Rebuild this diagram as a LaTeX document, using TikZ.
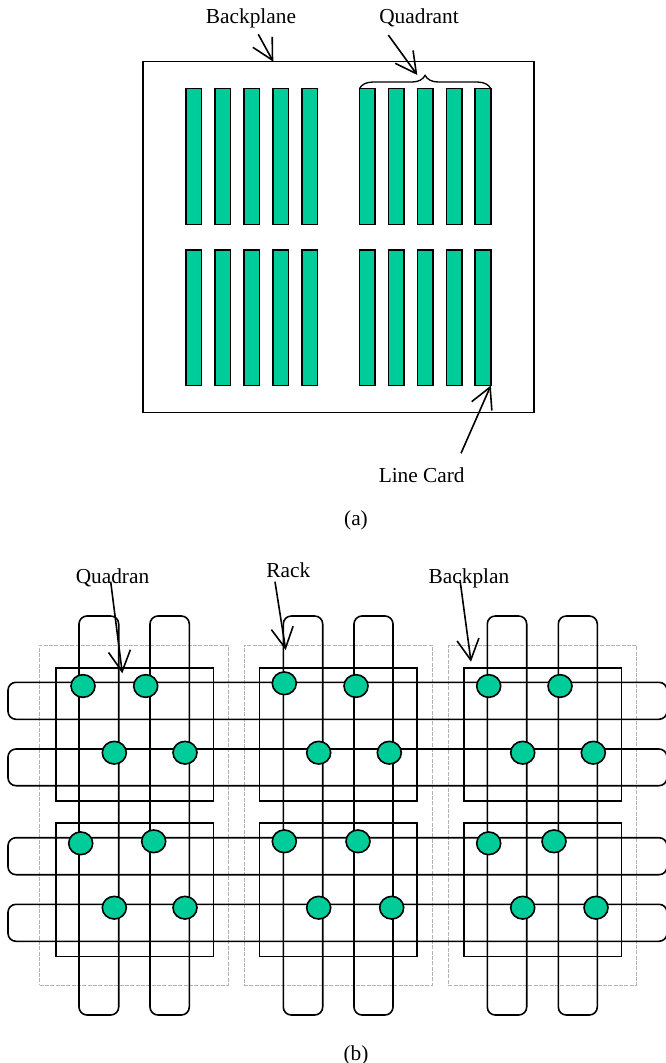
\documentclass[tikz,border=0pt]{standalone}
\usepackage{fontspec}
\setmainfont{Liberation Serif}
\usetikzlibrary{arrows.meta,shapes.geometric,decorations.pathreplacing}
\definecolor{cardgreen}{HTML}{00CC99}
\tikzset{
    outline/.style={draw=black, line width=1.2pt},
    label/.style={anchor=base, inner sep=0pt, font=\fontsize{16}{18}\selectfont},
    pointer/.style={line width=1.2pt, -{Straight Barb[length=15.5pt,width=16.5pt]}},
    cardbox/.style={outline, fill=cardgreen, anchor=north west, inner sep=0pt, outer sep=0pt, minimum width=11.7pt, minimum height=101.7pt},
    chipnode/.style={outline, fill=cardgreen, ellipse, inner sep=0pt, outer sep=0pt, minimum width=18pt, minimum height=17pt},
    rackbox/.style={draw=black!30, line width=0.5pt, dash pattern=on 3pt off 1pt},
    wrapbox/.style={outline, rounded corners=6pt}
}
\begin{document}
\begin{tikzpicture}[x=0.75pt, y=-0.75pt]
    \useasboundingbox (0,0) rectangle (665,1063);

    % Part (a): the backplane and its line cards
    \node[outline, anchor=north west, inner sep=0pt, outer sep=0pt, minimum width=293.5pt, minimum height=263pt] (backplane) at (142.7,61.7) {};
    \foreach \r/\y in {0/88.7, 1/250} {
        \foreach \c/\x in {0/186, 1/214.8, 2/243.7, 3/272.7, 4/301.7, 5/359.4, 6/388.3, 7/417.3, 8/446.3, 9/475.2} {
            \node[cardbox] (card\r\c) at (\x,\y) {};
        }
    }
    % Brace over the upper right quadrant
    \draw[decorate, decoration={brace, amplitude=10pt}, line width=1pt] (card05.north west) -- (card09.north east);

    % Labels of part (a)
    \node[label] (lbBackplane) at (251,24) {Backplane};
    \node[label] (lbQuadrant) at (419,24) {Quadrant};
    \node[label] (lbLineCard) at (421.7,482.7) {Line Card};
    \node[label] (lbA) at (356,525) {(a)};

    % Ends of the pointers
    \coordinate (tailBackplane) at (258.3,34.3);
    \coordinate (tipBackplane) at (273.3,61.7);
    \coordinate (tailQuadrant) at (388.3,35);
    \coordinate (tipQuadrant) at (417.3,75);
    \coordinate (tailLineCard) at (461,453.3);
    \draw[pointer] (tailBackplane) -- (tipBackplane);
    \draw[pointer] (tailQuadrant) -- (tipQuadrant);
    \draw[pointer] (tailLineCard) -- (card19.south east);

    % Part (b): dashed racks and the two quadrants inside each
    \foreach \k/\x/\w in {0/39.7/141.5, 1/244/141.2, 2/448.3/141} {
        \node[rackbox, anchor=north west, inner sep=0pt, outer sep=0pt, minimum width=\w pt, minimum height=255pt] (rack\k) at (\x,645) {};
    }
    \foreach \k/\x in {0/55.7, 1/259.3, 2/463.7} {
        \foreach \q/\y in {0/667.7, 1/823} {
            \node[outline, anchor=north west, inner sep=0pt, outer sep=0pt, minimum width=118.3pt, minimum height=100pt] (quad\k\q) at (\x,\y) {};
        }
    }

    % Vertical wrap loops
    \foreach \a/\b in {79/118.7, 150/189.3, 283.3/322.7, 354/393, 487.3/526.7, 558.3/597.3} {
        \draw[wrapbox] (\a,616) rectangle (\b,1015);
    }
    % Horizontal wrap loops, running off the right edge
    \foreach \a/\b in {682.3/719.3, 749/785.7, 837.7/874.7, 904.3/941.3} {
        \draw[wrapbox] (8,\a) rectangle (667,\b);
    }

    % Chips on the loops
    \foreach \n/\x/\y in {a/83/686, b/145.7/686, c/114.3/752.7, d/185/752.7,
                          e/284.3/683.3, f/356/686, g/318.7/752.7, h/389.3/752.7,
                          i/488.7/686, j/560/686, k/522.7/752.7, l/593.3/752.7,
                          m/80.7/843.3, n/153.7/841.3, o/114.3/907.7, p/185/907.7,
                          q/284.3/841.3, r/358/841.3, s/318.7/907.7, t/391.7/907.7,
                          u/488.7/843.3, v/554/841.3, w/522.7/907.7, x/596/907.7} {
        \node[chipnode] (chip\n) at (\x,\y) {};
    }

    % Labels of part (b), the pointers run over them
    \node[label] (lbQuadran) at (112.5,583) {Quadran};
    \node[label] (lbRack) at (288.3,577) {Rack};
    \node[label] (lbBackplan) at (469,583) {Backplan};
    \node[label] (lbB) at (356,1060) {(b)};

    \coordinate (tailQuadran) at (110.7,581.7);
    \coordinate (tipQuadran) at (122.3,673.3);
    \coordinate (tailRack) at (275,581.7);
    \coordinate (tipRack) at (285.7,650);
    \coordinate (tailBackplan) at (460,580);
    \coordinate (tipBackplan) at (471,661.7);
    \draw[pointer] (tailQuadran) -- (tipQuadran);
    \draw[pointer] (tailRack) -- (tipRack);
    \draw[pointer] (tailBackplan) -- (tipBackplan);
\end{tikzpicture}
\end{document}
